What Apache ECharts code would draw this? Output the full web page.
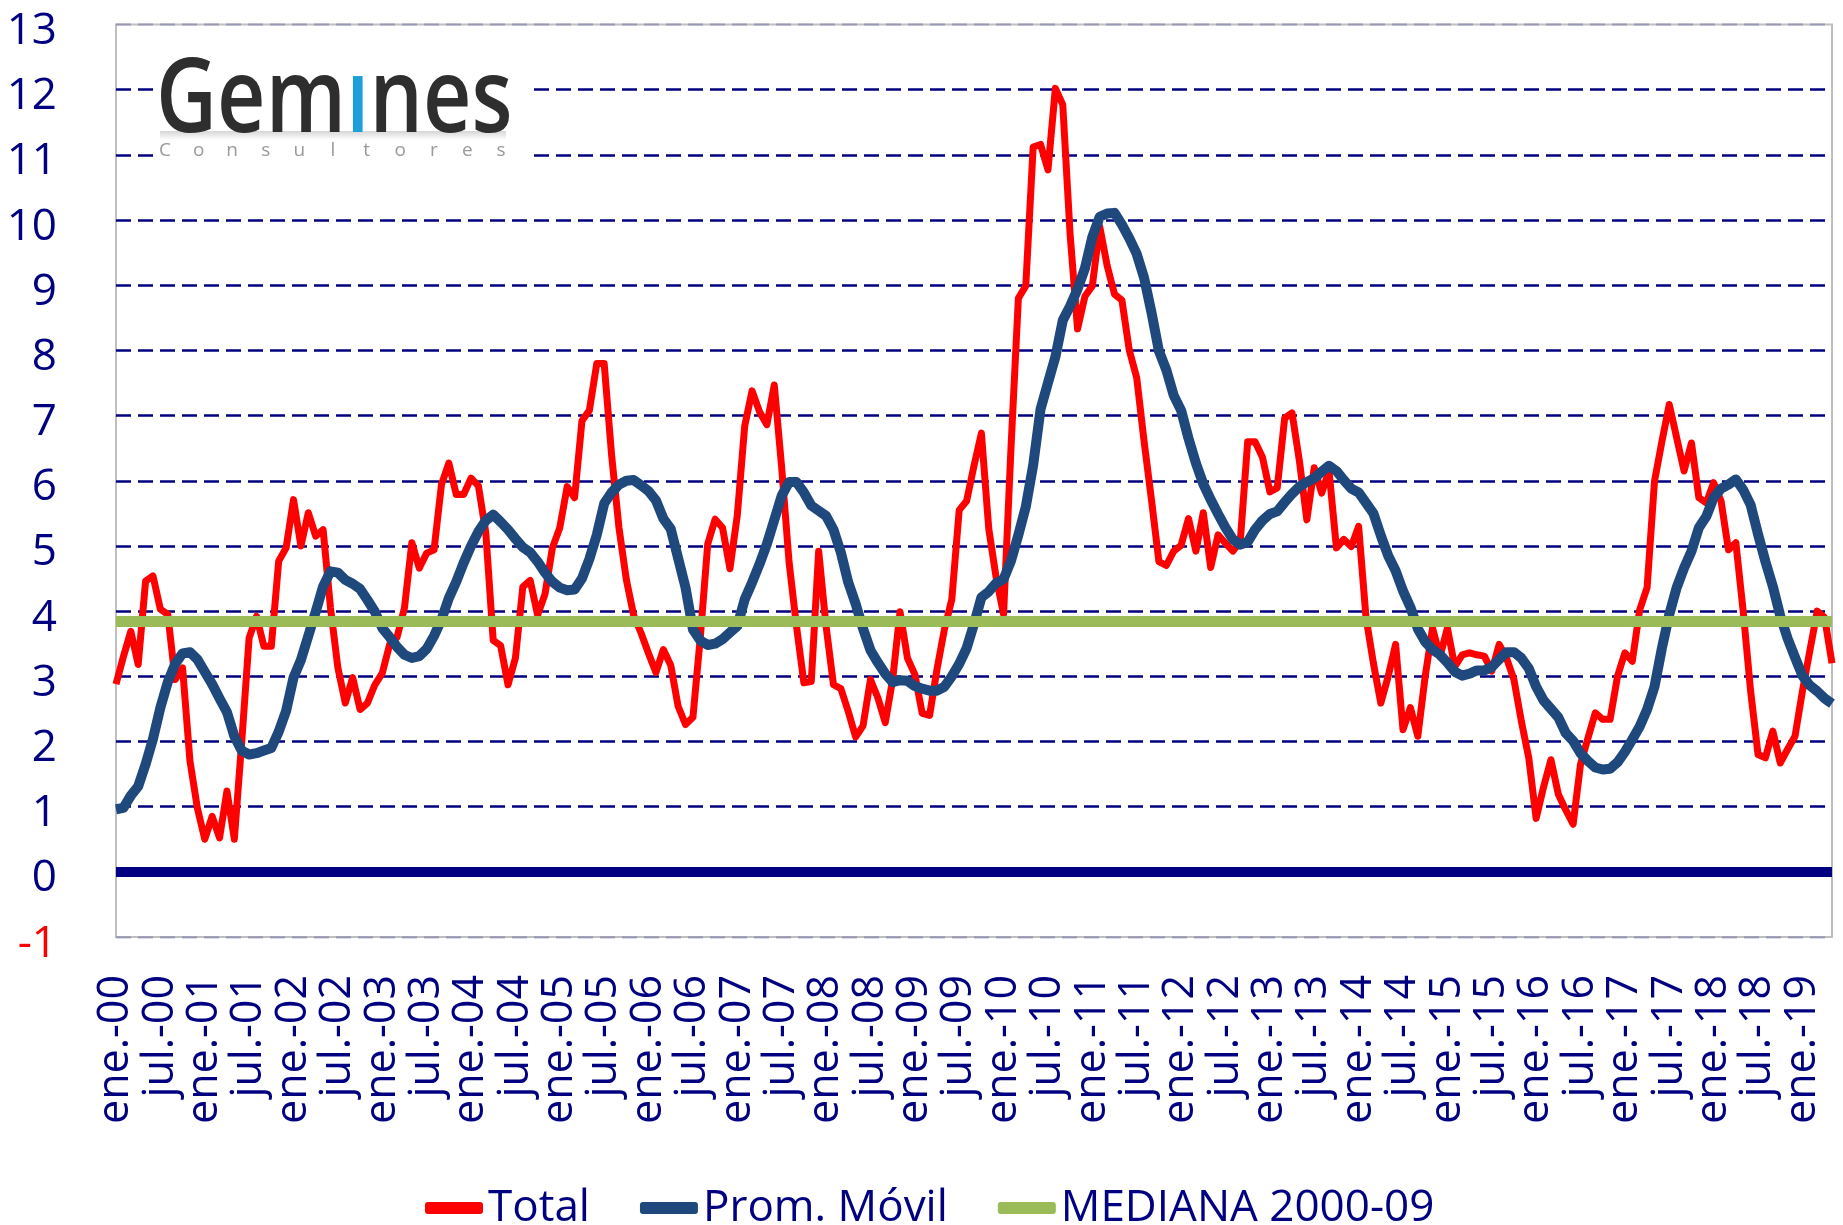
<!DOCTYPE html>
<html>
<head>
<meta charset="utf-8">
<script src="https://cdn.jsdelivr.net/npm/echarts@6/dist/echarts.min.js"></script>
<style>
  html, body { margin: 0; padding: 0; background: #fff; }
  #main { width: 1843px; height: 1225px; }
</style>
</head>
<body>
<div id="main"></div>
<script>
// meses (etiquetas del eje X)
var meses = ['ene.', 'feb.', 'mar.', 'abr.', 'may.', 'jun.', 'jul.', 'ago.', 'sept.', 'oct.', 'nov.', 'dic.'];
var anioInicio = 2000;
var numMeses = 233; // ene.-00 ... may.-19

var categorias = [];
for (var k = 0; k < numMeses; k++) {
    var yy = anioInicio + Math.floor(k / 12);
    categorias.push(meses[k % 12] + '-' + String(yy).slice(2));
}

// Total (%)
var total = [
    2.88, 3.3, 3.69, 3.18, 4.46, 4.54, 4.03, 3.95, 2.95, 3.13,
    1.7, 0.98, 0.5, 0.85, 0.52, 1.24, 0.5, 2.0, 3.59, 3.92,
    3.46, 3.46, 4.77, 4.97, 5.71, 5.0, 5.51, 5.15, 5.25, 4.05,
    3.13, 2.59, 2.98, 2.49, 2.59, 2.87, 3.05, 3.49, 3.6, 4.05,
    5.05, 4.66, 4.89, 4.94, 5.94, 6.27, 5.79, 5.79, 6.04, 5.92,
    5.2, 3.55, 3.47, 2.87, 3.28, 4.37, 4.47, 3.94, 4.26, 4.97,
    5.28, 5.91, 5.74, 6.92, 7.08, 7.8, 7.8, 6.4, 5.28, 4.48,
    3.93, 3.66, 3.35, 3.06, 3.41, 3.17, 2.54, 2.26, 2.37, 3.6,
    5.03, 5.41, 5.28, 4.65, 5.47, 6.84, 7.38, 7.06, 6.86, 7.47,
    6.2, 4.75, 3.77, 2.9, 2.92, 4.92, 3.77, 2.87, 2.81, 2.46,
    2.07, 2.24, 2.95, 2.67, 2.29, 2.95, 3.99, 3.28, 3.03, 2.43,
    2.4, 3.11, 3.72, 4.18, 5.55, 5.69, 6.23, 6.73, 5.26, 4.51,
    3.95, 6.5, 8.8, 8.99, 11.12, 11.16, 10.77, 12.02, 11.77, 9.77,
    8.33, 8.83, 8.99, 9.9, 9.3, 8.86, 8.77, 8.0, 7.58, 6.6,
    5.7, 4.76, 4.7, 4.92, 5.01, 5.42, 4.92, 5.51, 4.67, 5.17,
    5.04, 4.92, 5.07, 6.6, 6.6, 6.36, 5.83, 5.89, 6.96, 7.04,
    6.3, 5.4, 6.2, 5.81, 6.15, 4.97, 5.1, 4.99, 5.3, 3.9,
    3.2, 2.59, 3.0, 3.49, 2.18, 2.52, 2.08, 3.0, 3.74, 3.3,
    3.74, 3.15, 3.33, 3.36, 3.33, 3.31, 3.08, 3.49, 3.28, 2.95,
    2.31, 1.75, 0.82, 1.3, 1.72, 1.19, 0.95, 0.73, 1.65, 2.05,
    2.44, 2.34, 2.34, 3.0, 3.36, 3.23, 4.02, 4.36, 5.99, 6.6,
    7.17, 6.66, 6.15, 6.58, 5.74, 5.66, 5.97, 5.69, 4.94, 5.05,
    3.99, 2.77, 1.8, 1.75, 2.16, 1.67, 1.88, 2.08, 2.77, 3.39,
    4.0, 3.9, 3.2
];

// Promedio movil
var promMovil = [
    0.96, 0.98, 1.17, 1.31, 1.65, 2.04, 2.52, 2.91, 3.19, 3.35,
    3.37, 3.26, 3.07, 2.88, 2.66, 2.45, 2.08, 1.86, 1.8, 1.82,
    1.86, 1.9, 2.15, 2.47, 2.98, 3.25, 3.62, 3.99, 4.38, 4.61,
    4.59, 4.48, 4.42, 4.34, 4.17, 3.99, 3.74, 3.6, 3.45, 3.33,
    3.28, 3.31, 3.42, 3.62, 3.87, 4.2, 4.45, 4.74, 5.0, 5.22,
    5.39, 5.48, 5.37, 5.25, 5.11, 4.98, 4.9, 4.76, 4.59, 4.45,
    4.36, 4.32, 4.33, 4.5, 4.8, 5.17, 5.65, 5.82, 5.94, 6.0,
    6.01, 5.93, 5.84, 5.7, 5.42, 5.26, 4.81, 4.36, 3.72, 3.55,
    3.48, 3.5, 3.57, 3.67, 3.77, 4.18, 4.44, 4.72, 5.03, 5.4,
    5.77, 5.98, 5.98, 5.82, 5.62, 5.54, 5.46, 5.25, 4.9, 4.44,
    4.11, 3.73, 3.4, 3.21, 3.04, 2.91, 2.94, 2.93, 2.85, 2.81,
    2.78, 2.78, 2.84, 3.0, 3.19, 3.43, 3.8, 4.21, 4.3, 4.43,
    4.49, 4.77, 5.17, 5.6, 6.24, 7.1, 7.5, 7.9, 8.46, 8.68,
    8.94, 9.26, 9.74, 10.05, 10.1, 10.11, 9.93, 9.72, 9.48, 9.11,
    8.58, 7.99, 7.7, 7.31, 7.08, 6.65, 6.27, 5.95, 5.71, 5.49,
    5.28, 5.1, 5.02, 5.06, 5.25, 5.39, 5.49, 5.53, 5.67, 5.8,
    5.91, 5.98, 6.04, 6.14, 6.23, 6.15, 6.01, 5.88, 5.82, 5.66,
    5.5, 5.16, 4.85, 4.62, 4.31, 4.06, 3.73, 3.53, 3.41, 3.33,
    3.21, 3.07, 3.01, 3.04, 3.09, 3.09, 3.14, 3.26, 3.37, 3.37,
    3.28, 3.12, 2.84, 2.63, 2.5, 2.37, 2.13, 2.01, 1.82, 1.7,
    1.6, 1.57, 1.58, 1.68, 1.84, 2.03, 2.23, 2.49, 2.84, 3.43,
    3.95, 4.36, 4.66, 4.92, 5.28, 5.45, 5.74, 5.88, 5.94, 6.02,
    5.86, 5.63, 5.18, 4.76, 4.38, 3.93, 3.58, 3.29, 3.01, 2.86,
    2.77, 2.66, 2.58
];

var mediana = 3.84; // MEDIANA 2000-09

var ejeY = { min: -1, max: 13, paso: 1 };

var fuente = "'Open Sans', sans-serif";
var azul = '#000080';

// colores de las lineas de la cuadricula (-1 y 13 casi invisibles)
var coloresGrid = [];
for (var g = ejeY.min; g <= ejeY.max; g++) {
    coloresGrid.push(g === ejeY.min || g === ejeY.max ? 'rgba(0,0,128,0.2)' : azul);
}

var myChart = echarts.init(document.getElementById('main'));

// logo Gemines
var logo = [
    { type: 'rect', shape: { x: 153, y: 36, width: 376, height: 138 }, style: { fill: '#ffffff' }, z: 100 },
    { type: 'rect', shape: { x: 160, y: 131, width: 346, height: 9 },
      style: { fill: new echarts.graphic.LinearGradient(0, 0, 0, 1, [
          { offset: 0, color: '#d6d6d6' }, { offset: 1, color: '#ffffff' }]) }, z: 101 },
    { type: 'text', x: 156, y: 102, scaleX: 0.81, z: 102,
      style: {
          text: '{a|Gem}{b|ı}{a|nes}',
          verticalAlign: 'middle',
          rich: {
              a: { fontSize: 104, fontFamily: fuente, fontWeight: 600, fill: '#2e2e2e', color: '#2e2e2e' },
              b: { fontSize: 104, fontFamily: fuente, fontWeight: 600, fill: '#1e9fdc', color: '#1e9fdc' }
          }
      } }
];
var letras = 'Consultores'.split('');
letras.forEach(function (c, idx) {
    logo.push({
        type: 'text', x: 165 + idx * 33.6, y: 151, z: 102,
        style: { text: c, fontSize: 19, fontFamily: fuente, fill: '#9a9a9a', align: 'center', verticalAlign: 'middle' }
    });
});

var option = {
    animation: false,
    backgroundColor: '#ffffff',
    grid: {
        left: 116, right: 11, top: 24.5, bottom: 288,
        show: true, borderColor: '#bfbfbf', borderWidth: 2
    },
    legend: {
        data: ['Total', 'Prom. Móvil', 'MEDIANA 2000-09'],
        left: 420, top: 1178,
        icon: 'roundRect',
        itemWidth: 58, itemHeight: 12, itemGap: 50,
        textStyle: { fontSize: 44, color: azul, fontFamily: fuente, lineHeight: 50 }
    },
    xAxis: {
        type: 'category',
        data: categorias,
        boundaryGap: false,
        axisLine: { show: false },
        axisTick: { show: false },
        splitLine: { show: false },
        axisLabel: {
            interval: 5,
            rotate: 90,
            margin: 38,
            fontSize: 43,
            lineHeight: 40,
            color: azul,
            fontFamily: fuente,
            hideOverlap: false
        }
    },
    yAxis: {
        type: 'value',
        min: ejeY.min, max: ejeY.max, interval: ejeY.paso,
        axisLine: { show: false },
        axisTick: { show: false },
        axisLabel: {
            margin: 59,
            fontSize: 44,
            fontFamily: fuente,
            verticalAlign: 'top',
            lineHeight: 14,
            color: function (v) { return Number(v) < 0 ? '#ff0000' : azul; }
        },
        splitLine: {
            show: true,
            lineStyle: { color: coloresGrid, width: 2.5, type: [15, 7] }
        }
    },
    series: [
        {
            name: 'Total',
            type: 'line',
            data: total,
            showSymbol: false,
            z: 2,
            itemStyle: { color: '#ff0000' },
            lineStyle: { color: '#ff0000', width: 7, join: 'round' },
            markLine: {
                silent: true,
                symbol: 'none',
                label: { show: false },
                lineStyle: { color: azul, width: 10, type: 'solid' },
                data: [{ yAxis: 0 }]
            }
        },
        {
            name: 'Prom. Móvil',
            type: 'line',
            data: promMovil,
            showSymbol: false,
            z: 3,
            itemStyle: { color: '#1f497d' },
            lineStyle: { color: '#1f497d', width: 10, join: 'round' }
        },
        {
            name: 'MEDIANA 2000-09',
            type: 'line',
            data: categorias.map(function () { return mediana; }),
            showSymbol: false,
            z: 4,
            itemStyle: { color: '#9bbb59' },
            lineStyle: { color: '#9bbb59', width: 11 }
        }
    ],
    graphic: logo,
    tooltip: {}
};

myChart.setOption(option);
</script>
</body>
</html>
